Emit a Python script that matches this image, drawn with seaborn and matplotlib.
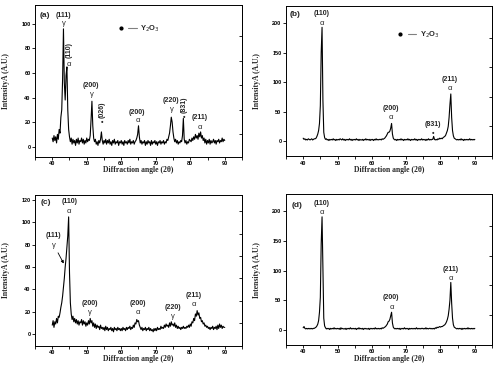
import numpy as np
import seaborn as sns
import matplotlib.pyplot as plt
from matplotlib.lines import Line2D
from matplotlib.legend_handler import HandlerTuple

sns.set_theme(style="ticks")
plt.rcParams.update({
    "axes.edgecolor": "black",
    "axes.linewidth": 0.7,
    "xtick.color": "black",
    "ytick.color": "black",
})

# ======================
# data (0.25 deg steps)
# ======================
two_theta = np.linspace(40, 90, 201)

intensity_a = [
    7, 4, 9, 5, 8, 3, 10, 6, 14, 11, 24, 30, 55, 96, 52, 38, 58, 65, 30, 14,
    8, 4, 7, 2, 6, 3, 5, 1, 6, 3, 7, 2, 5, 4, 7, 3, 6, 2, 5, 3,
    7, 4, 6, 5, 9, 22, 37, 17, 7, 4, 6, 2, 4, 1, 5, 3, 6, 12, 5, 2,
    5, 3, 6, 2, 5, 3, 6, 2, 4, 1, 5, 3, 6, 2, 4, 3, 5, 1, 4, 3,
    5, 2, 4, 1, 5, 3, 4, 2, 5, 3, 6, 2, 4, 3, 5, 2, 4, 5, 7, 10,
    17, 8, 3, 5, 2, 4, 3, 5, 1, 4, 2, 5, 3, 4, 1, 5, 2, 4, 3, 5,
    2, 4, 1, 4, 3, 5, 2, 4, 3, 5, 2, 4, 3, 6, 5, 8, 11, 17, 24, 20,
    12, 7, 4, 6, 3, 5, 2, 4, 3, 5, 4, 9, 23, 6, 3, 5, 2, 4, 3, 6,
    5, 4, 7, 5, 8, 6, 10, 7, 9, 6, 11, 8, 12, 7, 9, 5, 7, 3, 6, 2,
    5, 3, 6, 2, 5, 3, 4, 6, 3, 5, 2, 5, 4, 6, 3, 5, 4, 7, 4, 6,
    5,
]

intensity_b = [
    5, 3, 4, 2, 3, 2, 4, 3, 2, 3, 4, 2, 3, 4, 4, 5, 8, 12, 18, 30,
    60, 150, 193, 70, 15, 6, 3, 4, 2, 3, 1, 3, 2, 3, 2, 4, 2, 3, 1, 3,
    2, 3, 2, 4, 3, 2, 4, 2, 3, 1, 3, 2, 3, 2, 4, 2, 3, 1, 3, 2,
    3, 2, 4, 2, 3, 1, 3, 2, 2, 3, 1, 3, 2, 4, 2, 3, 2, 3, 1, 3,
    2, 3, 1, 3, 2, 4, 2, 3, 2, 3, 3, 2, 4, 3, 4, 5, 7, 9, 12, 15,
    15, 17, 22, 30, 12, 5, 3, 2, 3, 1, 3, 2, 3, 2, 4, 2, 3, 1, 3, 2,
    3, 2, 4, 2, 3, 1, 3, 2, 3, 2, 4, 2, 3, 1, 3, 2, 3, 2, 4, 2,
    3, 2, 3, 1, 3, 2, 4, 2, 3, 2, 3, 3, 8, 3, 2, 3, 2, 4, 3, 5,
    4, 5, 4, 6, 7, 8, 10, 14, 18, 25, 40, 62, 80, 40, 18, 9, 5, 4, 3, 2,
    3, 2, 3, 2, 4, 2, 3, 1, 3, 2, 3, 2, 3, 2, 4, 2, 3, 2, 3, 2,
    3,
]

intensity_c = [
    8, 12, 6, 11, 9, 14, 10, 16, 15, 19, 24, 28, 34, 42, 50, 60, 68, 78, 88, 105,
    55, 28, 18, 13, 16, 11, 14, 10, 13, 9, 12, 8, 11, 10, 13, 8, 12, 9, 11, 7,
    10, 8, 12, 9, 14, 10, 12, 7, 10, 6, 9, 5, 8, 6, 7, 4, 8, 5, 6, 4,
    6, 3, 7, 4, 6, 3, 5, 4, 6, 3, 5, 2, 6, 4, 5, 3, 6, 4, 5, 3,
    5, 3, 6, 4, 5, 3, 6, 4, 6, 5, 7, 4, 6, 5, 8, 6, 10, 9, 13, 11,
    12, 8, 6, 4, 6, 3, 5, 4, 6, 3, 5, 4, 6, 3, 5, 3, 4, 2, 5, 3,
    5, 3, 6, 4, 5, 4, 7, 5, 6, 5, 8, 6, 9, 7, 8, 6, 10, 7, 11, 8,
    9, 7, 10, 6, 8, 5, 7, 5, 6, 4, 6, 5, 7, 5, 6, 5, 7, 6, 8, 6,
    9, 7, 11, 10, 14, 12, 18, 16, 21, 17, 19, 14, 15, 11, 12, 9, 10, 7, 8, 6,
    7, 5, 6, 4, 6, 5, 7, 4, 6, 5, 7, 4, 8, 5, 9, 6, 8, 5, 7, 6,
    6,
]

intensity_d = [
    4, 6, 3, 2, 3, 2, 3, 2, 3, 2, 3, 2, 3, 3, 4, 5, 7, 10, 16, 30,
    55, 145, 190, 110, 20, 7, 4, 2, 3, 2, 3, 1, 3, 2, 3, 2, 4, 2, 3, 2,
    3, 2, 3, 1, 4, 2, 3, 2, 2, 3, 1, 3, 2, 3, 2, 4, 2, 3, 2, 3,
    2, 3, 1, 3, 2, 4, 2, 3, 2, 3, 1, 3, 2, 3, 2, 2, 3, 1, 3, 2,
    3, 2, 3, 2, 4, 2, 3, 2, 3, 2, 3, 2, 4, 3, 4, 5, 6, 8, 10, 14,
    15, 18, 24, 30, 12, 5, 3, 2, 3, 2, 3, 2, 3, 1, 3, 2, 3, 2, 4, 2,
    3, 2, 3, 1, 3, 2, 3, 2, 3, 2, 3, 2, 4, 2, 3, 2, 3, 2, 3, 3,
    2, 3, 2, 4, 2, 3, 2, 3, 3, 2, 3, 2, 3, 2, 4, 3, 5, 4, 5, 6,
    5, 6, 6, 7, 8, 9, 11, 14, 18, 24, 35, 50, 80, 45, 20, 9, 5, 4, 3, 2,
    3, 2, 3, 2, 3, 1, 3, 2, 3, 2, 3, 2, 4, 2, 3, 2, 3, 2, 3, 2,
    3,
]

y_ticks_ac = [0, 20, 40, 60, 80, 100]
y_ticks_c = [0, 20, 40, 60, 80, 100, 120]
y_ticks_bd = [0, 50, 100, 150, 200]

# peak labels: text, 2theta, intensity, rotation
notes_a = [
    ("(111)", 43.2, 107, 0), ("γ", 43.4, 100.5, 0),
    ("(110)", 44.8, 79, 90), ("α", 44.8, 67, 0),
    ("(200)", 51.2, 50, 0), ("γ", 51.5, 42.5, 0),
    ("(026)", 54.4, 30, 90), ("•", 54.4, 20, 0),
    ("(200)", 64.6, 28, 0), ("α", 64.8, 21, 0),
    ("(220)", 74.4, 37.5, 0), ("γ", 74.7, 30.5, 0),
    ("(831)", 78.1, 34, 90), ("•", 78.1, 23.5, 0),
    ("(211)", 82.6, 24, 0), ("α", 82.7, 16, 0),
]
notes_b = [
    ("(110)", 45.5, 216, 0), ("α", 45.5, 200, 0),
    ("(200)", 65.5, 56, 0), ("α", 65.6, 40, 0),
    ("(831)", 77.7, 29, 0), ("•", 77.9, 13, 0),
    ("(211)", 82.6, 105, 0), ("α", 82.8, 89, 0),
]
notes_c = [
    ("(110)", 45.0, 118.5, 0), ("α", 44.8, 110, 0),
    ("(111)", 40.3, 88, 0), ("γ", 40.4, 79, 0),
    ("(200)", 50.8, 27.5, 0), ("γ", 50.8, 19.5, 0),
    ("(200)", 64.8, 27.5, 0), ("α", 64.8, 19.5, 0),
    ("(220)", 75.0, 24, 0), ("γ", 75.0, 15.5, 0),
    ("(211)", 80.9, 34.5, 0), ("α", 81.1, 26.5, 0),
]
notes_d = [
    ("(110)", 45.4, 212, 0), ("α", 45.4, 198, 0),
    ("(200)", 65.6, 54, 0), ("α", 65.7, 38, 0),
    ("(211)", 83.0, 102, 0), ("α", 83.1, 86, 0),
]

sans = ["Liberation Sans", "DejaVu Sans"]
serif = ["Liberation Serif", "DejaVu Serif"]

fig = plt.figure(figsize=(5, 3.8), dpi=100)


def draw_panel(rect, values, ylim, yticks, tag, tag_y, notes):
    ax = fig.add_axes(rect)
    sns.lineplot(x=two_theta, y=values, ax=ax, color="black", linewidth=0.8,
                 estimator=None, sort=False)
    ax.set_xlim(35, 95)
    ax.set_ylim(*ylim)
    ax.set_xticks(range(40, 91, 10))
    ax.set_xticks(range(35, 96, 5), minor=True)
    ax.set_yticks(yticks)
    ax.tick_params(which="both", direction="out", width=0.6, pad=1,
                   labelsize=4)
    ax.tick_params(which="major", length=2.2)
    ax.tick_params(which="minor", length=1.8)
    for lab in ax.get_xticklabels() + ax.get_yticklabels():
        lab.set_fontfamily(sans)
        lab.set_fontweight("bold")
    ax.set_xlabel("Diffraction angle (2θ)", fontsize=5.5, fontweight="bold",
                  family=serif)
    ax.set_ylabel("IntensityA (A.U.)", fontsize=5.5, fontweight="bold",
                  family=serif)
    w = rect[2] * 500
    h = rect[3] * 380
    ax.xaxis.set_label_coords(0.5, -9.5 / h)
    ax.yaxis.set_label_coords(-25 / w, 0.5)
    # inward ticks on right side
    mids = [(a + b) / 2 for a, b in zip(yticks[:-1], yticks[1:])]
    sec = ax.secondary_yaxis("right")
    sec.set_yticks(mids)
    sec.tick_params(direction="in", length=2, width=0.6, labelright=False)
    sec.spines["right"].set_linewidth(0.7)
    ax.text(tag[1], tag_y, tag[0], fontsize=6, fontweight="bold", family=sans,
            ha="left", va="center")
    for text, x, y, rot in notes:
        greek = text in ("α", "γ")
        ax.text(x, y, text, rotation=rot, ha="center", va="center",
                fontsize=5.5 if greek else 5, family=sans,
                fontweight="normal" if greek else "bold")
    return ax


ax_a = draw_panel([0.07, 0.587, 0.414, 0.40], intensity_a, (-8.4, 115.5),
                  y_ticks_ac, ("(a)", 36.2), 107, notes_a)
ax_b = draw_panel([0.572, 0.589, 0.412, 0.395], intensity_b, (-25.5, 229),
                  y_ticks_bd, ("(b)", 36.2), 214, notes_b)
ax_c = draw_panel([0.07, 0.0895, 0.414, 0.397], intensity_c, (-10.7, 124.5),
                  y_ticks_c, ("(c)", 36.5), 117.5, notes_c)
ax_d = draw_panel([0.572, 0.092, 0.412, 0.397], intensity_d, (-25, 228),
                  y_ticks_bd, ("(d)", 36.5), 209.5, notes_d)

ax_c.annotate("", xy=(43.7, 61), xytext=(41.3, 75),
              arrowprops=dict(arrowstyle="-|>", color="black", lw=0.6,
                              mutation_scale=4))

# Y2O3 legend: dot then grey line
handle = (Line2D([], [], marker="o", color="black", markersize=2, ls="none"),
          Line2D([], [], color="grey", lw=0.8))
for ax, anchor in ((ax_a, (0.38, 0.843)), (ax_b, (0.52, 0.808))):
    ax.legend([handle], ["Y$_2$O$_3$"], handler_map={tuple: HandlerTuple(ndivide=None, pad=0.4)},
              loc="center left", bbox_to_anchor=anchor, frameon=False,
              handlelength=2.6, handletextpad=0.5, borderaxespad=0,
              prop={"family": sans, "size": 5.5, "weight": "bold"})

fig.savefig("out.png", dpi=100)
